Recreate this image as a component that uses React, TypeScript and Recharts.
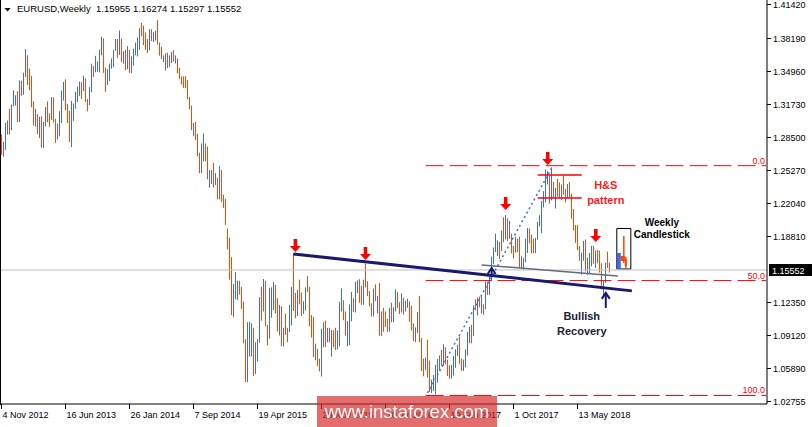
import React from 'react';
import { ComposedChart, Bar, XAxis, YAxis, ReferenceLine, ReferenceArea, ReferenceDot } from 'recharts';

const UP = '#4169e1';
const DOWN = '#ff4500';
const NAVY = '#191970';
const RED = '#ff0000';
const FONT = '"Liberation Sans", Arial, sans-serif';

// EURUSD weekly, first bar = week of 4 Nov 2012
const opens = [
  1.2830, 1.2711, 1.2745, 1.2975, 1.2986, 1.2930, 1.3160, 1.3180, 1.3220, 1.3065, 1.3345, 1.3315, 1.3455, 1.3640, 1.3365, 1.3360,
  1.3190, 1.3005, 1.3010, 1.2955, 1.2990, 1.2820, 1.2995, 1.3110, 1.3050, 1.3030, 1.3115, 1.3000, 1.2835, 1.2935, 1.3000, 1.3220,
  1.3345, 1.3125, 1.3010, 1.2830, 1.3070, 1.3140, 1.3275, 1.3280, 1.3345, 1.3330, 1.3380, 1.3220, 1.3175, 1.3295, 1.3525, 1.3520,
  1.3555, 1.3560, 1.3685, 1.3805, 1.3485, 1.3365, 1.3500, 1.3560, 1.3590, 1.3705, 1.3745, 1.3675, 1.3710, 1.3590, 1.3670, 1.3540,
  1.3680, 1.3485, 1.3635, 1.3695, 1.3740, 1.3805, 1.3910, 1.3905, 1.3790, 1.3750, 1.3705, 1.3885, 1.3810, 1.3830, 1.3870, 1.3760,
  1.3695, 1.3630, 1.3635, 1.3640, 1.3540, 1.3605, 1.3645, 1.3595, 1.3605, 1.3525, 1.3430, 1.3425, 1.3410, 1.3400, 1.3240, 1.3130,
  1.2950, 1.2965, 1.2830, 1.2685, 1.2520, 1.2630, 1.2760, 1.2670, 1.2450, 1.2455, 1.2525, 1.2390, 1.2450, 1.2290, 1.2460, 1.2230,
  1.2185, 1.1950, 1.1840, 1.1560, 1.1205, 1.1290, 1.1315, 1.1390, 1.1380, 1.1195, 1.0845, 1.0495, 1.0820, 1.0890, 1.0970, 1.0600,
  1.0810, 1.0875, 1.1200, 1.1195, 1.1445, 1.1015, 1.0985, 1.1110, 1.1265, 1.1350, 1.1165, 1.1110, 1.1165, 1.0830, 1.0985, 1.0980,
  1.0970, 1.1105, 1.1385, 1.1180, 1.1150, 1.1335, 1.1300, 1.1195, 1.1210, 1.1360, 1.1350, 1.1015, 1.1005, 1.0740, 1.0770, 1.0645,
  1.0590, 1.0885, 1.0990, 1.0865, 1.0965, 1.0860, 1.0925, 1.0915, 1.0795, 1.0830, 1.1155, 1.1255, 1.1130, 1.0935, 1.1000, 1.1150,
  1.1270, 1.1170, 1.1395, 1.1400, 1.1285, 1.1225, 1.1455, 1.1400, 1.1310, 1.1225, 1.1115, 1.1365, 1.1255, 1.1275, 1.1115, 1.1135,
  1.1050, 1.1040, 1.0975, 1.1175, 1.1085, 1.1160, 1.1325, 1.1200, 1.1150, 1.1235, 1.1155, 1.1225, 1.1240, 1.1200, 1.0970, 1.0880,
  1.0985, 1.1140, 1.0855, 1.0590, 1.0585, 1.0665, 1.0560, 1.0450, 1.0455, 1.0520, 1.0530, 1.0640, 1.0705, 1.0695, 1.0780, 1.0640,
  1.0615, 1.0560, 1.0620, 1.0670, 1.0735, 1.0800, 1.0650, 1.0590, 1.0615, 1.0725, 1.0895, 1.0995, 1.0930, 1.1205, 1.1180, 1.1280,
  1.1195, 1.1200, 1.1195, 1.1425, 1.1400, 1.1470, 1.1665, 1.1755, 1.1775, 1.1820, 1.1760, 1.1925, 1.1860, 1.2035, 1.1945, 1.1900,
  1.1770, 1.1730, 1.1820, 1.1785, 1.1605, 1.1610, 1.1665, 1.1795, 1.1935, 1.1895, 1.1775, 1.1750, 1.1860, 1.2005, 1.2030, 1.2200,
  1.2220, 1.2425, 1.2460, 1.2250, 1.2410, 1.2295, 1.2315, 1.2305, 1.2285, 1.2350, 1.2325, 1.2280, 1.2330, 1.2285, 1.2130, 1.1960,
  1.1940, 1.1770, 1.1655, 1.1660, 1.1770, 1.1605, 1.1655, 1.1685, 1.1745, 1.1685, 1.1720, 1.1655, 1.1565, 1.1410, 1.1440, 1.1620,
  1.15955,
];
const highs = [
  1.2878, 1.2805, 1.2990, 1.3015, 1.3127, 1.3170, 1.3308, 1.3260, 1.3300, 1.3405, 1.3403, 1.3480, 1.3711, 1.3650, 1.3520, 1.3450,
  1.3200, 1.3130, 1.3075, 1.3050, 1.3055, 1.3000, 1.3145, 1.3200, 1.3085, 1.3243, 1.3240, 1.3030, 1.2985, 1.3105, 1.3305, 1.3390,
  1.3416, 1.3175, 1.3110, 1.3205, 1.3180, 1.3295, 1.3345, 1.3395, 1.3390, 1.3452, 1.3425, 1.3225, 1.3340, 1.3569, 1.3545, 1.3645,
  1.3590, 1.3705, 1.3832, 1.3815, 1.3530, 1.3515, 1.3570, 1.3620, 1.3705, 1.3810, 1.3810, 1.3893, 1.3815, 1.3690, 1.3705, 1.3740,
  1.3705, 1.3640, 1.3715, 1.3775, 1.3825, 1.3915, 1.3967, 1.3940, 1.3875, 1.3810, 1.3905, 1.3905, 1.3875, 1.3890, 1.3993, 1.3775,
  1.3735, 1.3650, 1.3670, 1.3677, 1.3650, 1.3680, 1.3700, 1.3650, 1.3620, 1.3530, 1.3445, 1.3445, 1.3445, 1.3410, 1.3245, 1.3160,
  1.2990, 1.3000, 1.2885, 1.2700, 1.2790, 1.2887, 1.2790, 1.2760, 1.2530, 1.2530, 1.2600, 1.2500, 1.2455, 1.2570, 1.2530, 1.2290,
  1.2250, 1.1960, 1.1870, 1.1680, 1.1420, 1.1534, 1.1450, 1.1450, 1.1390, 1.1245, 1.0880, 1.1045, 1.1050, 1.1035, 1.0990, 1.0850,
  1.0880, 1.1290, 1.1390, 1.1467, 1.1450, 1.1020, 1.1380, 1.1385, 1.1436, 1.1410, 1.1280, 1.1215, 1.1200, 1.0990, 1.1130, 1.0990,
  1.1215, 1.1390, 1.1714, 1.1330, 1.1360, 1.1460, 1.1335, 1.1250, 1.1385, 1.1495, 1.1390, 1.1115, 1.1095, 1.0835, 1.0785, 1.0690,
  1.0980, 1.1045, 1.1060, 1.0990, 1.0990, 1.0970, 1.0965, 1.0990, 1.0965, 1.1245, 1.1376, 1.1260, 1.1150, 1.1055, 1.1220, 1.1340,
  1.1280, 1.1440, 1.1455, 1.1465, 1.1400, 1.1460, 1.1616, 1.1445, 1.1350, 1.1230, 1.1375, 1.1415, 1.1300, 1.1427, 1.1150, 1.1185,
  1.1150, 1.1080, 1.1185, 1.1235, 1.1190, 1.1366, 1.1340, 1.1240, 1.1327, 1.1285, 1.1255, 1.1275, 1.1250, 1.1205, 1.1035, 1.0995,
  1.1145, 1.1300, 1.0890, 1.0690, 1.0700, 1.0874, 1.0670, 1.0485, 1.0530, 1.0630, 1.0685, 1.0720, 1.0775, 1.0830, 1.0800, 1.0680,
  1.0625, 1.0630, 1.0715, 1.0780, 1.0825, 1.0906, 1.0690, 1.0680, 1.0780, 1.0950, 1.1000, 1.1020, 1.1210, 1.1268, 1.1285, 1.1295,
  1.1295, 1.1220, 1.1445, 1.1440, 1.1490, 1.1685, 1.1775, 1.1910, 1.1845, 1.1830, 1.1940, 1.2070, 1.2092, 1.2060, 1.2035, 1.1910,
  1.1790, 1.1880, 1.1860, 1.1880, 1.1690, 1.1670, 1.1860, 1.1965, 1.1960, 1.1900, 1.1860, 1.1870, 1.2023, 1.2090, 1.2230, 1.2325,
  1.2537, 1.2520, 1.2475, 1.2555, 1.2415, 1.2355, 1.2445, 1.2410, 1.2390, 1.2476, 1.2345, 1.2395, 1.2413, 1.2300, 1.2150, 1.1995,
  1.1995, 1.1790, 1.1725, 1.1840, 1.1852, 1.1675, 1.1720, 1.1790, 1.1790, 1.1745, 1.1750, 1.1745, 1.1620, 1.1445, 1.1625, 1.1734,
  1.16274,
];
const lows = [
  1.2680, 1.2661, 1.2727, 1.2877, 1.2877, 1.2920, 1.3155, 1.3160, 1.2998, 1.3000, 1.3255, 1.3265, 1.3440, 1.3360, 1.3310, 1.3145,
  1.2965, 1.2955, 1.2880, 1.2843, 1.2750, 1.2745, 1.2955, 1.2998, 1.2953, 1.3020, 1.2995, 1.2796, 1.2830, 1.2860, 1.2990, 1.3210,
  1.3115, 1.2990, 1.2805, 1.2755, 1.3010, 1.3130, 1.3195, 1.3255, 1.3225, 1.3300, 1.3195, 1.3105, 1.3165, 1.3290, 1.3440, 1.3485,
  1.3490, 1.3485, 1.3650, 1.3480, 1.3295, 1.3360, 1.3400, 1.3520, 1.3535, 1.3695, 1.3625, 1.3655, 1.3585, 1.3570, 1.3507, 1.3515,
  1.3480, 1.3475, 1.3550, 1.3650, 1.3640, 1.3705, 1.3835, 1.3750, 1.3705, 1.3673, 1.3700, 1.3790, 1.3780, 1.3795, 1.3755, 1.3647,
  1.3615, 1.3585, 1.3503, 1.3525, 1.3535, 1.3575, 1.3590, 1.3570, 1.3475, 1.3420, 1.3365, 1.3333, 1.3330, 1.3220, 1.3125, 1.2920,
  1.2860, 1.2825, 1.2665, 1.2500, 1.2500, 1.2615, 1.2615, 1.2440, 1.2358, 1.2395, 1.2360, 1.2385, 1.2245, 1.2245, 1.2220, 1.2160,
  1.1995, 1.1755, 1.1460, 1.1115, 1.1098, 1.1270, 1.1260, 1.1315, 1.1175, 1.0840, 1.0462, 1.0458, 1.0710, 1.0710, 1.0520, 1.0540,
  1.0660, 1.0845, 1.1060, 1.1150, 1.1005, 1.0819, 1.0885, 1.1090, 1.1165, 1.1130, 1.0955, 1.0915, 1.0810, 1.0808, 1.0920, 1.0850,
  1.0950, 1.1015, 1.1155, 1.1085, 1.1105, 1.1220, 1.1105, 1.1125, 1.1160, 1.1340, 1.1005, 1.0896, 1.0705, 1.0675, 1.0620, 1.0565,
  1.0516, 1.0800, 1.0805, 1.0850, 1.0850, 1.0710, 1.0800, 1.0775, 1.0780, 1.0810, 1.1150, 1.1065, 1.0915, 1.0810, 1.0822, 1.1055,
  1.1145, 1.1140, 1.1330, 1.1235, 1.1215, 1.1215, 1.1385, 1.1300, 1.1200, 1.1100, 1.1100, 1.1250, 1.1130, 1.0912, 1.0910, 1.0952,
  1.1000, 1.0950, 1.0955, 1.1045, 1.1045, 1.1150, 1.1185, 1.1125, 1.1140, 1.1120, 1.1150, 1.1185, 1.1050, 1.0965, 1.0860, 1.0851,
  1.0940, 1.0850, 1.0570, 1.0518, 1.0580, 1.0505, 1.0365, 1.0352, 1.0375, 1.0340, 1.0455, 1.0580, 1.0620, 1.0620, 1.0635, 1.0520,
  1.0494, 1.0495, 1.0525, 1.0600, 1.0715, 1.0640, 1.0570, 1.0569, 1.0605, 1.0720, 1.0840, 1.0839, 1.0910, 1.1160, 1.1110, 1.1190,
  1.1130, 1.1119, 1.1170, 1.1310, 1.1312, 1.1445, 1.1610, 1.1730, 1.1690, 1.1662, 1.1740, 1.1825, 1.1855, 1.1838, 1.1860, 1.1717,
  1.1670, 1.1725, 1.1730, 1.1575, 1.1575, 1.1554, 1.1630, 1.1720, 1.1815, 1.1717, 1.1720, 1.1720, 1.1850, 1.1980, 1.1915, 1.2165,
  1.2215, 1.2390, 1.2205, 1.2235, 1.2260, 1.2155, 1.2270, 1.2260, 1.2240, 1.2290, 1.2215, 1.2255, 1.2265, 1.2055, 1.1940, 1.1820,
  1.1750, 1.1645, 1.1510, 1.1645, 1.1540, 1.1508, 1.1525, 1.1590, 1.1615, 1.1575, 1.1620, 1.1530, 1.1365, 1.1301, 1.1430, 1.1575,
  1.15297,
];
const closes = [
  1.2711, 1.2745, 1.2975, 1.2986, 1.2930, 1.3160, 1.3180, 1.3220, 1.3065, 1.3345, 1.3315, 1.3455, 1.3640, 1.3365, 1.3360, 1.3190,
  1.3005, 1.3010, 1.2955, 1.2990, 1.2820, 1.2995, 1.3110, 1.3050, 1.3030, 1.3115, 1.3000, 1.2835, 1.2935, 1.3000, 1.3220, 1.3345,
  1.3125, 1.3010, 1.2830, 1.3070, 1.3140, 1.3275, 1.3280, 1.3345, 1.3330, 1.3380, 1.3220, 1.3175, 1.3295, 1.3525, 1.3520, 1.3555,
  1.3560, 1.3685, 1.3805, 1.3485, 1.3365, 1.3500, 1.3560, 1.3590, 1.3705, 1.3745, 1.3675, 1.3710, 1.3590, 1.3670, 1.3540, 1.3680,
  1.3485, 1.3635, 1.3695, 1.3740, 1.3805, 1.3910, 1.3905, 1.3790, 1.3750, 1.3705, 1.3885, 1.3810, 1.3830, 1.3870, 1.3760, 1.3695,
  1.3630, 1.3635, 1.3640, 1.3540, 1.3605, 1.3645, 1.3595, 1.3605, 1.3525, 1.3430, 1.3425, 1.3410, 1.3400, 1.3240, 1.3130, 1.2950,
  1.2965, 1.2830, 1.2685, 1.2520, 1.2630, 1.2760, 1.2670, 1.2450, 1.2455, 1.2525, 1.2390, 1.2450, 1.2290, 1.2460, 1.2230, 1.2185,
  1.2000, 1.1840, 1.1560, 1.1205, 1.1290, 1.1315, 1.1390, 1.1380, 1.1195, 1.0845, 1.0495, 1.0820, 1.0890, 1.0970, 1.0600, 1.0810,
  1.0875, 1.1200, 1.1195, 1.1445, 1.1015, 1.0985, 1.1110, 1.1265, 1.1350, 1.1165, 1.1110, 1.1165, 1.0830, 1.0985, 1.0980, 1.0970,
  1.1105, 1.1385, 1.1180, 1.1150, 1.1335, 1.1300, 1.1195, 1.1210, 1.1360, 1.1350, 1.1015, 1.1005, 1.0740, 1.0770, 1.0645, 1.0590,
  1.0885, 1.0990, 1.0865, 1.0965, 1.0860, 1.0925, 1.0915, 1.0795, 1.0830, 1.1155, 1.1255, 1.1130, 1.0935, 1.1000, 1.1150, 1.1270,
  1.1170, 1.1395, 1.1400, 1.1285, 1.1225, 1.1455, 1.1400, 1.1310, 1.1225, 1.1115, 1.1365, 1.1255, 1.1275, 1.1115, 1.1135, 1.1050,
  1.1040, 1.0975, 1.1175, 1.1085, 1.1160, 1.1325, 1.1200, 1.1150, 1.1235, 1.1155, 1.1225, 1.1240, 1.1200, 1.0970, 1.0880, 1.0985,
  1.1140, 1.0855, 1.0590, 1.0585, 1.0665, 1.0560, 1.0450, 1.0455, 1.0520, 1.0530, 1.0640, 1.0705, 1.0695, 1.0780, 1.0640, 1.0615,
  1.0560, 1.0620, 1.0670, 1.0735, 1.0800, 1.0650, 1.0590, 1.0615, 1.0725, 1.0895, 1.0995, 1.0930, 1.1205, 1.1180, 1.1280, 1.1195,
  1.1200, 1.1195, 1.1425, 1.1400, 1.1470, 1.1665, 1.1755, 1.1775, 1.1820, 1.1760, 1.1925, 1.1860, 1.2035, 1.1945, 1.1950, 1.1815,
  1.1730, 1.1820, 1.1785, 1.1605, 1.1610, 1.1665, 1.1795, 1.1935, 1.1895, 1.1775, 1.1750, 1.1860, 1.2005, 1.2030, 1.2200, 1.2220,
  1.2425, 1.2460, 1.2250, 1.2410, 1.2295, 1.2315, 1.2305, 1.2285, 1.2350, 1.2325, 1.2280, 1.2330, 1.2285, 1.2130, 1.1960, 1.1940,
  1.1770, 1.1655, 1.1660, 1.1770, 1.1605, 1.1655, 1.1685, 1.1745, 1.1685, 1.1720, 1.1655, 1.1565, 1.1410, 1.1440, 1.1620, 1.1596,
  1.15552,
];

const tickIdx = [0, 32, 64, 96, 128, 160, 192, 224, 256, 288];
const tickLabels = ['4 Nov 2012', '16 Jun 2013', '26 Jan 2014', '7 Sep 2014', '19 Apr 2015', '29 Nov 2015', '10 Jul 2016', '19 Feb 2017', '1 Oct 2017', '13 May 2018'];
const priceTicks = [1.4142, 1.3819, 1.3496, 1.3173, 1.285, 1.2527, 1.2204, 1.1881, 1.1235, 1.0912, 1.0589, 1.02755];
const lastPrice = 1.15552;

const fibLevels = [1.2573, 1.14515, 1.033];
const fibLabels = ['0.0', '50.0', '100.0'];

const resistance = [{ x: 146, y: 1.1712 }, { x: 315, y: 1.1351 }];
const neckline = [{ x: 240, y: 1.1604 }, { x: 308, y: 1.1497 }];
const rally = [{ x: 213, y: 1.0355 }, { x: 275, y: 1.2551 }];
const hsLines = [1.2483, 1.2258];

const downArrows = [
  { i: 147, p: 1.1731 },
  { i: 182, p: 1.1653 },
  { i: 252, p: 1.2141 },
  { i: 273, p: 1.258 },
  { i: 297, p: 1.1829 },
];
const upArrows = [
  { i: 245, p: 1.1575, len: 9 },
  { i: 302, p: 1.1331, len: 15 },
];
const notes = [
  { i: 302, p: 1.2341, text: 'H&S', color: '#ff1a1a', size: 11 },
  { i: 302, p: 1.2199, text: 'pattern', color: '#ff1a1a', size: 11 },
  { i: 330, p: 1.1984, text: 'Weekly', color: '#000', size: 10 },
  { i: 330, p: 1.1872, text: 'Candlestick', color: '#000', size: 10 },
  { i: 290, p: 1.1067, text: 'Bullish', color: '#1c2333', size: 11 },
  { i: 290, p: 1.092, text: 'Recovery', color: '#1c2333', size: 11 },
];

const SLOTS = 383;
const rows = Array.from({ length: SLOTS }, (_, i) =>
  i < highs.length
    ? { i, range: [lows[i], highs[i]], up: closes[i] >= opens[i] }
    : { i, range: null, up: true }
);

const PLOT_RIGHT = 767;
const PLOT_BOTTOM = 404;

const OhlcShape = (props: any) => {
  const { x, y, width, height, payload } = props;
  if (!payload || !payload.range) return null;
  const cx = Math.round(x + width / 2 - 0.5);
  const top = Math.min(y, y + height);
  const h = Math.max(1, Math.abs(height));
  return <rect x={cx} y={top} width={1} height={h} fill={payload.up ? UP : DOWN} />;
};

const TimeTick = (props: any) => {
  const { x, payload } = props;
  const k = tickIdx.indexOf(payload.value);
  const tx = Math.round(x - 0.5) + 0.5;
  return (
    <g>
      <line x1={tx} y1={PLOT_BOTTOM} x2={tx} y2={PLOT_BOTTOM + 5} stroke="#000" />
      <text x={tx + 1} y={PLOT_BOTTOM + 14} fontSize={9} fontFamily={FONT} fill="#000" textAnchor="start">
        {k >= 0 ? tickLabels[k] : ''}
      </text>
    </g>
  );
};

const PriceTick = (props: any) => {
  const { y, payload } = props;
  const ty = Math.round(y - 0.5) + 0.5;
  return (
    <g>
      <line x1={PLOT_RIGHT} y1={ty} x2={PLOT_RIGHT + 4} y2={ty} stroke="#000" />
      <text x={PLOT_RIGHT + 6} y={ty + 3.5} fontSize={9} fontFamily={FONT} fill="#000">
        {Number(payload.value).toFixed(5)}
      </text>
    </g>
  );
};

const DownArrow = ({ cx, cy }: any) => (
  <path
    d={`M${cx - 1.8},${cy - 13} L${cx + 1.8},${cy - 13} L${cx + 1.8},${cy - 6} L${cx + 5.5},${cy - 6} L${cx},${cy} L${cx - 5.5},${cy - 6} L${cx - 1.8},${cy - 6} Z`}
    fill={RED}
  />
);

const UpArrow = ({ cx, cy, len }: any) => (
  <g stroke={NAVY} fill="none" strokeWidth={2}>
    <path d={`M${cx - 4},${cy + 6} L${cx},${cy} L${cx + 4},${cy + 6}`} />
    <line x1={cx} y1={cy + 1} x2={cx} y2={cy + len} />
  </g>
);

const Note = ({ cx, cy, text, color, size }: any) => (
  <text x={cx} y={cy} fontSize={size} fontWeight="bold" fontFamily={FONT} fill={color} textAnchor="middle">
    {text}
  </text>
);

const FibLabel = ({ cx, cy, text }: any) => (
  <text x={cx - 1} y={cy - 2} fontSize={9} fontFamily={FONT} fill={RED} textAnchor="end">
    {text}
  </text>
);

const PriceBox = ({ cx, cy }: any) => (
  <g>
    <rect x={cx + 3} y={Math.round(cy) - 6} width={44} height={12} fill="#000" />
    <text x={cx + 6} y={Math.round(cy) + 3.5} fontSize={9} fontFamily={FONT} fill="#fff">
      {lastPrice.toFixed(5)}
    </text>
  </g>
);

export default function App() {
  return (
    <div style={{ position: 'absolute', left: 0, top: 0, width: 812, height: 427, background: '#fff', overflow: 'hidden' }}>
      <ComposedChart width={812} height={427} data={rows} margin={{ top: 0, right: 0, bottom: 0, left: 0 }}>
        <XAxis
          dataKey="i"
          type="category"
          ticks={tickIdx}
          interval={0}
          height={23}
          axisLine={{ stroke: '#000' }}
          tickLine={false}
          tick={<TimeTick />}
        />
        <YAxis
          orientation="right"
          type="number"
          domain={[1.02467, 1.41905]}
          ticks={priceTicks}
          interval={0}
          width={45}
          allowDataOverflow
          axisLine={{ stroke: '#000' }}
          tickLine={false}
          tick={<PriceTick />}
        />
        <ReferenceLine y={lastPrice} stroke="#c0c0c0" />
        <Bar dataKey="range" shape={<OhlcShape />} isAnimationActive={false} />

        {fibLevels.map((lv, k) => (
          <ReferenceLine
            key={'fib' + k}
            segment={[{ x: 212, y: lv }, { x: SLOTS - 1, y: lv }]}
            stroke={RED}
            strokeDasharray="18 6"
          />
        ))}
        {fibLevels.map((lv, k) => (
          <ReferenceDot key={'fl' + k} x={SLOTS - 1} y={lv} shape={(p: any) => <FibLabel {...p} text={fibLabels[k]} />} />
        ))}

        <ReferenceLine segment={rally} stroke={UP} strokeWidth={1.5} strokeDasharray="2 3" />
        <ReferenceLine segment={neckline} stroke="#5f6c7a" strokeWidth={1.5} />
        <ReferenceLine segment={resistance} stroke={NAVY} strokeWidth={3} />
        {hsLines.map((lv, k) => (
          <ReferenceLine key={'hs' + k} segment={[{ x: 268, y: lv }, { x: 290, y: lv }]} stroke={RED} strokeWidth={1.5} />
        ))}

        <ReferenceArea x1={308} x2={314} y1={1.15646} y2={1.19599} fill="none" stroke="#000" strokeWidth={1} />
        <ReferenceArea x1={308} x2={309} y1={1.15646} y2={1.17208} fill={UP} fillOpacity={1} stroke="none" />
        <ReferenceLine segment={[{ x: 311, y: 1.18867 }, { x: 311, y: 1.16232 }]} stroke={DOWN} strokeWidth={1.5} />
        <ReferenceArea x1={310} x2={311} y1={1.16427} y2={1.16915} fill={DOWN} fillOpacity={1} stroke="none" />
        <ReferenceLine segment={[{ x: 312, y: 1.16817 }, { x: 312, y: 1.15743 }]} stroke={DOWN} strokeWidth={1.5} />
        <ReferenceArea x1={312} x2={312} y1={1.15939} y2={1.16622} fill={DOWN} fillOpacity={1} stroke="none" />

        {downArrows.map((a, k) => (
          <ReferenceDot key={'da' + k} x={a.i} y={a.p} shape={(p: any) => <DownArrow {...p} />} />
        ))}
        {upArrows.map((a, k) => (
          <ReferenceDot key={'ua' + k} x={a.i} y={a.p} shape={(p: any) => <UpArrow {...p} len={a.len} />} />
        ))}
        {notes.map((n, k) => (
          <ReferenceDot key={'n' + k} x={n.i} y={n.p} shape={(p: any) => <Note {...p} text={n.text} color={n.color} size={n.size} />} />
        ))}
        <ReferenceDot x={SLOTS - 1} y={lastPrice} shape={(p: any) => <PriceBox {...p} />} />
      </ComposedChart>

      <svg width={812} height={427} style={{ position: 'absolute', left: 0, top: 0, pointerEvents: 'none' }}>
        <line x1={0.5} y1={0} x2={0.5} y2={PLOT_BOTTOM + 1} stroke="#000" />
        <polygon points="4.5,8 10.5,8 7.5,11.5" fill="#000" />
        <text x={17} y={12} fontSize={9.5} fontFamily={FONT} fill="#000">EURUSD,Weekly</text>
        <text x={96} y={12} fontSize={9.5} fontFamily={FONT} fill="#000">1.15955 1.16274 1.15297 1.15552</text>
      </svg>

      <div
        style={{
          position: 'absolute',
          left: 317,
          top: 396,
          width: 180,
          height: 31,
          background: 'rgba(214, 38, 38, 0.68)',
          color: '#fff',
          fontFamily: FONT,
          fontSize: 18.5,
          lineHeight: '31px',
          textAlign: 'center',
          textShadow: '0 0 1px rgba(0,0,0,0.35)',
        }}
      >
        www.instaforex.com
      </div>
    </div>
  );
}
